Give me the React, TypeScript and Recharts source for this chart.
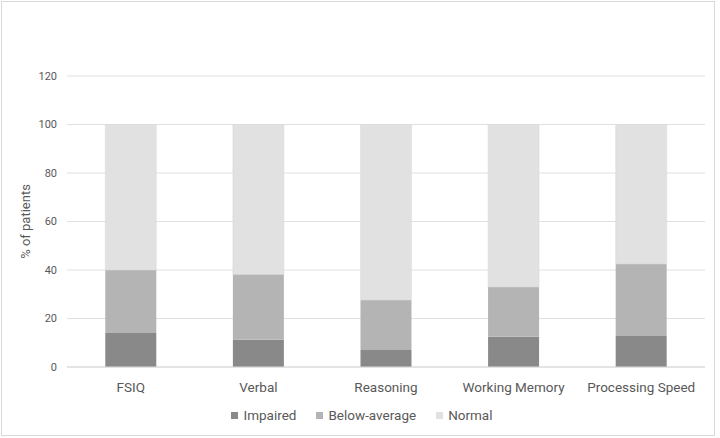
import React from 'react';
import { BarChart, Bar, XAxis, YAxis, CartesianGrid, Legend } from 'recharts';

const categories = ['FSIQ', 'Verbal', 'Reasoning', 'Working Memory', 'Processing Speed'];
const impaired = [14, 11.2, 7, 12.5, 12.8];
const belowAverage = [26, 27, 20.6, 20.5, 29.7];
const normal = [60, 61.8, 72.4, 67, 57.5];
const yTicks = [0, 20, 40, 60, 80, 100, 120];

const seriesNames = ['Impaired', 'Below-average', 'Normal'];
const seriesColors = ['#898989', '#b4b4b4', '#e1e1e1'];

const data = categories.map((c, i) => ({
  name: c,
  impaired: impaired[i],
  below: belowAverage[i],
  normal: normal[i],
}));

const FONT = 'Roboto, "Noto Sans", sans-serif';
const TEXT = '#595959';

const LegendContent = () => (
  <div style={{ display: 'flex', justifyContent: 'center', alignItems: 'center', fontFamily: FONT, fontSize: 13.5, color: TEXT, paddingLeft: 4 }}>
    {seriesNames.map((n, i) => (
      <div key={n} style={{ display: 'flex', alignItems: 'center', marginRight: i < seriesNames.length - 1 ? 20 : 0 }}>
        <span style={{ display: 'inline-block', width: 7, height: 7, background: seriesColors[i], marginRight: 5 }} />
        <span>{n}</span>
      </div>
    ))}
  </div>
);

const YLabel = (props: any) => {
  const vb = props.viewBox || {};
  const cy = (vb.y || 0) + (vb.height || 0) / 2;
  const x = 30;
  return (
    <text x={x} y={cy} transform={`rotate(-90, ${x}, ${cy})`} textAnchor="middle" fill={TEXT} fontSize={13} fontFamily={FONT}>
      % of patients
    </text>
  );
};

export default function App() {
  return (
    <div style={{ position: 'absolute', left: 0, top: 0, width: 720, height: 438, background: '#fff' }}>
      <div style={{ position: 'absolute', left: 1, top: 1, width: 714, height: 435, boxSizing: 'border-box', border: '1px solid #d9d9d9' }} />
      <div style={{ position: 'absolute', left: 0, top: 0 }}>
        <BarChart width={720} height={438} data={data} margin={{ top: 76, right: 15, bottom: 41, left: 0 }} barCategoryGap="30%">
          <CartesianGrid vertical={false} stroke="#e0e0e0" />
          <XAxis
            dataKey="name"
            axisLine={{ stroke: '#d9d9d9' }}
            tickLine={false}
            tickMargin={9}
            height={30}
            tick={{ fill: TEXT, fontSize: 13.5, fontFamily: FONT }}
          />
          <YAxis
            domain={[0, 120]}
            ticks={yTicks}
            axisLine={false}
            tickLine={false}
            width={67}
            tickMargin={4}
            tick={{ fill: TEXT, fontSize: 11, fontFamily: FONT }}
            label={<YLabel />}
          />
          <Legend
            verticalAlign="middle"
            align="center"
            layout="horizontal"
            content={<LegendContent />}
            wrapperStyle={{ top: 407, left: 0, width: 720 }}
          />
          <Bar dataKey="impaired" name={seriesNames[0]} stackId="a" fill={seriesColors[0]} isAnimationActive={false} />
          <Bar dataKey="below" name={seriesNames[1]} stackId="a" fill={seriesColors[1]} isAnimationActive={false} />
          <Bar dataKey="normal" name={seriesNames[2]} stackId="a" fill={seriesColors[2]} stroke="#d8d8d8" strokeWidth={0.5} isAnimationActive={false} />
        </BarChart>
      </div>
    </div>
  );
}
